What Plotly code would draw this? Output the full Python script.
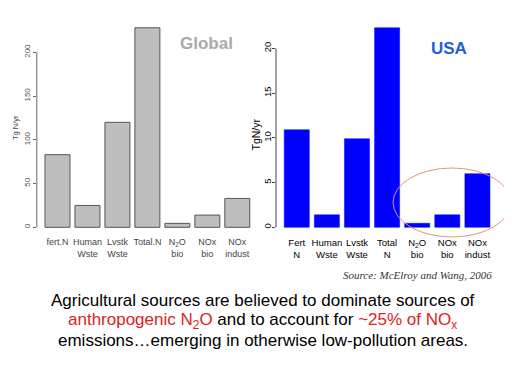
import plotly.graph_objects as go

# ---- data ----
categories = ["fert", "human", "lvstk", "total", "n2o", "noxbio", "noxind"]
global_labels = ["fert.N", "Human<br>Wste", "Lvstk<br>Wste", "Total.N",
                 "N<sub>2</sub>O<br>bio", "NOx<br>bio", "NOx<br>indust"]
usa_labels = ["Fert<br>N", "Human<br>Wste", "Lvstk<br>Wste", "Total<br>N",
              "N<sub>2</sub>O<br>bio", "NOx<br>bio", "NOx<br>indust"]
global_values = [83, 25, 120, 228, 4.5, 14, 33]
usa_values = [10.9, 1.4, 9.9, 22.3, 0.45, 1.4, 6.0]
global_ticks = [0, 50, 100, 150, 200]
usa_ticks = [0, 5, 10, 15, 20]

# page body has an 8px margin: figure is drawn 8px in from the window edge
OFF = 8
W, H = 512 - OFF, 384 - OFF
px = lambda v: (v - OFF) / W
py = lambda v: 1 - (v - OFF) / H

fig = go.Figure()
fig.add_trace(go.Bar(x=categories, y=global_values, xaxis="x", yaxis="y",
                     marker=dict(color="#bebebe", line=dict(color="#555555", width=1)),
                     showlegend=False))
fig.add_trace(go.Bar(x=categories, y=usa_values, xaxis="x2", yaxis="y2",
                     marker=dict(color="#0000ff", line=dict(color="#0000ff", width=0.5)),
                     showlegend=False))

n = len(categories)
xr = [-0.69, n - 1 + 0.69]
gmax, umax = max(global_values), max(usa_values)

ydom = [py(235.3), py(19.8)]
common_x = dict(type="category", range=xr, showline=False, showgrid=False,
                zeroline=False, ticks="", tickvals=categories)
fig.update_layout(
    width=W, height=H, margin=dict(l=0, r=0, t=0, b=0),
    paper_bgcolor="white", plot_bgcolor="white", bargap=1/6,
    font=dict(family="Liberation Sans, Arial, sans-serif"),
    xaxis=dict(domain=[px(36.8), px(258)], ticktext=global_labels,
               tickfont=dict(size=9, color="#444444"), anchor="y", **common_x),
    xaxis2=dict(domain=[px(276), px(498.2)], ticktext=usa_labels,
                tickfont=dict(size=9.5, color="#000000"), anchor="y2", **common_x),
    yaxis=dict(domain=ydom, range=[-0.04 * gmax, 1.04 * gmax], tickvals=global_ticks,
               tickangle=-90, ticks="outside", ticklen=3, tickcolor="#666666",
               tickfont=dict(size=8, color="#555555"), showgrid=False, zeroline=False,
               showline=False, anchor="x"),
    yaxis2=dict(domain=ydom, range=[-0.04 * umax, 1.04 * umax], tickvals=usa_ticks,
                tickangle=-90, ticks="outside", ticklen=3, tickcolor="#444444",
                ticklabelstandoff=-3,
                tickfont=dict(size=9.5, color="#000000"), showgrid=False, zeroline=False,
                showline=False, anchor="x2"),
)

# axis lines only spanning the tick range (R style)
fig.add_shape(type="line", xref="x domain", yref="y", x0=0, x1=0,
              y0=global_ticks[0], y1=global_ticks[-1], line=dict(color="#666666", width=1))
fig.add_shape(type="line", xref="x2 domain", yref="y2", x0=0, x1=0,
              y0=usa_ticks[0], y1=usa_ticks[-1], line=dict(color="#444444", width=1))

# highlight ellipse
fig.add_shape(type="circle", xref="paper", yref="paper",
              x0=px(393), x1=px(511), y0=py(237), y1=py(168),
              line=dict(color="#e0957a", width=1))


def label(text, x, y, size, color, angle=0, xanchor="center", family=None):
    f = dict(size=size, color=color)
    if family:
        f["family"] = family
    return dict(text=text, x=px(x), y=py(y), xref="paper", yref="paper",
                xanchor=xanchor, yanchor="middle", textangle=angle,
                showarrow=False, font=f)


red = "#dd2222"
ann = [
    label("Tg N/yr", 15, 128, 7.5, "#444444", angle=-90),
    label("TgN/yr", 255.5, 135, 10.5, "#000000", angle=-90),
    label("<b>Global</b>", 206.5, 43, 17, "#aaaaaa"),
    label("<b>USA</b>", 449, 48, 17, "#1e5fd8"),
    label("<i>Source: McElroy and Wang, 2006</i>", 494, 275, 11, "#333333",
          xanchor="right", family="Liberation Serif, Times New Roman, serif"),
    label("Agricultural sources are believed to dominate sources of",
          262.5, 300.7, 17, "#000000"),
    label(f"<span style='color:{red}'>anthropogenic N<sub>2</sub>O</span> and to account for "
          f"<span style='color:{red}'>~25% of NO<sub>x</sub></span>",
          262.5, 321, 17, "#000000"),
    label("emissions…emerging in otherwise low-pollution areas.",
          262.5, 340, 17, "#000000"),
]
fig.update_layout(annotations=ann)

fig.write_html("out.html")
